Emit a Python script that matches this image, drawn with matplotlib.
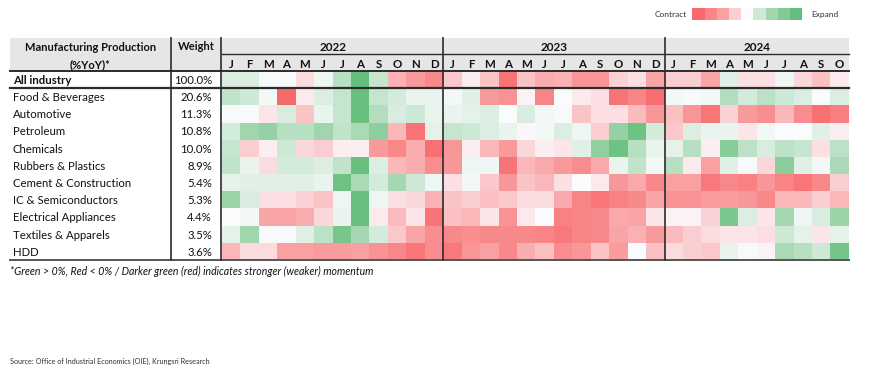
import numpy as np
import matplotlib
matplotlib.use("Agg")
import matplotlib.pyplot as plt
from matplotlib.colors import LinearSegmentedColormap, Normalize

plt.rcParams['font.family'] = ['Lato', 'DejaVu Sans']

# ---------------- data ----------------
rows = ["All industry", "Food & Beverages", "Automotive", "Petroleum", "Chemicals",
        "Rubbers & Plastics", "Cement & Construction", "IC & Semiconductors",
        "Electrical Appliances", "Textiles & Apparels", "HDD"]
weights = ["100.0%", "20.6%", "11.3%", "10.8%", "10.0%", "8.9%", "5.4%", "5.3%",
           "4.4%", "3.5%", "3.6%"]
years = ["2022", "2023", "2024"]
months_per_year = [list("JFMAMJJASOND"), list("JFMAMJJASOND"), list("JFMAMJJASO")]

# momentum score: -4 (strong contraction) .. +4 (strong expansion)
m2022 = [
    [0.7, 0.7, 0.1, 0.1, -0.7, 0.3, 1.5, 4.0, 1.2, -1.6, -2.2, -2.8],
    [1.3, 1.0, 0.2, -4.0, -0.4, 0.7, 1.2, 3.8, 1.2, 0.9, 0.4, 0.4],
    [0.1, 0.1, -0.5, 0.8, -1.2, 0.4, 1.2, 3.8, 1.6, 0.8, 1.0, 0.4],
    [0.9, 2.0, 2.4, 1.5, 1.5, 2.0, 1.3, 1.8, 2.6, -1.5, -3.6, 0.5],
    [1.2, -1.0, -0.3, 1.0, -0.8, -1.0, -0.3, -0.3, -2.2, -2.9, -1.7, -3.7],
    [1.3, 0.4, -0.7, 0.9, 0.9, 0.7, 1.3, 3.8, 0.7, -1.5, -1.7, -2.6],
    [0.5, 0.6, 0.6, 0.6, 0.6, 0.4, 3.6, 1.8, 0.9, 1.9, 1.0, 0.3],
    [2.2, 0.8, -0.6, -0.6, -0.9, -1.2, 0.3, 3.8, 0.3, -0.6, -0.8, -1.6],
    [0.05, 0.2, -1.9, -1.9, -1.7, -0.8, 0.4, 3.8, -0.4, -1.4, -0.5, -3.6],
    [0.5, 2.0, 0.1, 0.1, 0.6, 1.4, 3.3, 1.9, 0.9, -1.1, -1.9, -2.6],
    [-1.5, -0.7, -0.7, -2.0, -2.0, -2.1, -2.1, -2.0, -2.5, -2.9, -3.5, -2.7],
]
m2023 = [
    [-1.1, -0.3, -1.2, -3.6, -1.2, -1.7, -1.6, -2.4, -2.4, -0.9, -0.6, -1.9],
    [0.2, 0.6, -2.2, -2.5, -0.2, -3.0, 0.05, -0.4, -0.6, -3.6, -3.0, -3.8],
    [0.4, 0.5, 0.7, 0.05, 0.8, 0.2, 0.1, -1.2, -0.6, -0.6, -1.4, -2.3],
    [1.2, 1.0, 0.7, 0.4, -0.1, 0.2, 0.7, 0.3, -1.0, 2.4, 3.6, 0.9],
    [-2.4, -0.3, -1.5, -2.2, -0.8, -0.3, -0.5, 0.6, 2.5, 3.6, 1.5, 0.4],
    [-2.3, 0.3, 0.3, -3.6, -1.5, -1.8, -2.2, -2.7, -1.8, 0.4, 1.3, 0.2],
    [-0.6, 0.2, -1.1, -2.3, -1.2, -1.5, -0.6, 0.05, -0.4, -2.3, -1.8, -2.9],
    [-1.2, -1.0, -1.3, -1.1, -0.7, -0.7, -1.8, -3.0, -3.5, -3.1, -2.8, -1.9],
    [-1.3, -1.5, -0.5, -2.5, -0.4, 0.05, -3.1, -3.0, -2.8, -1.8, -1.9, -0.5],
    [-2.8, -2.6, -2.8, -2.8, -2.8, -3.0, -3.4, -3.0, -2.8, -1.9, -1.6, -2.2],
    [-3.4, -2.4, -2.0, -2.9, -1.7, -1.3, -2.7, -2.3, -1.2, -2.1, 0.05, -1.3],
]
m2024 = [
    [-1.0, -1.0, -1.9, 0.6, -0.6, -0.6, 0.3, -0.8, -1.3, -0.4],
    [0.2, 0.1, 0.2, 1.6, 0.9, 1.4, 1.0, 0.7, 0.05, 0.7],
    [-1.3, -2.4, -3.5, -0.9, -2.2, -2.6, -1.5, -2.7, -3.7, -3.2],
    [-1.1, 0.7, 0.4, 0.4, -0.5, 0.2, 0.05, 0.05, 0.6, -0.3],
    [0.5, 1.5, -0.3, 2.8, 1.4, 0.8, 1.4, 1.2, -0.6, 1.4],
    [1.5, -0.4, -2.0, 0.6, 0.1, -0.8, 2.7, 0.6, 0.2, 1.8],
    [-2.0, -2.0, -3.4, -2.9, -3.1, -2.3, -3.0, -3.5, -2.9, -1.0],
    [-2.5, -2.5, -2.1, -2.1, -2.3, -2.9, -1.5, -1.5, -1.0, -1.5],
    [-0.2, -0.2, -0.9, 3.2, 0.7, -0.5, 1.9, 0.3, 0.8, 2.2],
    [-1.4, -1.0, -0.7, -0.5, -0.5, -0.6, 1.0, 0.5, -0.5, 0.5],
    [-0.7, -1.0, -1.1, 0.4, 0.1, -0.2, 1.8, 1.5, 1.0, 3.4],
]
legend_levels = [-4, -3, -2, -1, 0, 1, 2, 3, 4]

# ---------------- layout (pixels) ----------------
W, H = 870, 371
X0, XNAME, XW, XH, XR = 10, 171, 221.5, 222, 849
Y_TOP, Y_YEAR, Y_MON = 37.5, 54, 71
Y_BOT = 260
ROW_H = (Y_BOT - Y_MON) / len(rows)
LINE_C = "#2b2b2b"
GREY = "#E7E6E6"

cmap = LinearSegmentedColormap.from_list(
    "rwg", [(0.0, "#F8696B"), (0.25, "#F9A0A2"), (0.5, "#FCFCFF"),
            (0.75, "#A2D6AF"), (1.0, "#63BE7B")])
norm = Normalize(-4, 4)

fig = plt.figure(figsize=(W / 100, H / 100), dpi=100)
ax = fig.add_axes([0, 0, 1, 1])
ax.set_xlim(0, W)
ax.set_ylim(H, 0)
ax.axis("off")

# header background
ax.fill_between([X0, XR], Y_TOP, Y_MON, color=GREY, lw=0, zorder=0)

# heatmap
data = np.hstack([np.array(m2022), np.array(m2023), np.array(m2024)])
ncol = data.shape[1]
ax.imshow(data, cmap=cmap, norm=norm, extent=(XH, XR, Y_BOT, Y_MON),
          origin="upper", aspect="auto", interpolation="nearest", zorder=1)
col_w = (XR - XH) / ncol

# header text
ax.text((X0 + XNAME) / 2, 47.5, "Manufacturing Production", ha="center", va="center",
        fontsize=8, fontweight="bold", color="#111")
ax.text((X0 + XNAME) / 2, 64.5, "(%YoY)*", ha="center", va="center",
        fontsize=8, fontweight="bold", color="#111")
ax.text((XNAME + XW) / 2, 46.5, "Weight", ha="center", va="center",
        fontsize=8, fontweight="bold", color="#111")

start = 0
year_bounds = []
for yr, mlist in zip(years, months_per_year):
    x_a = XH + start * col_w
    x_b = XH + (start + len(mlist)) * col_w
    year_bounds.append(x_b)
    ax.text((x_a + x_b) / 2, 47.5, yr, ha="center", va="center",
            fontsize=8.5, fontweight="bold", color="#111")
    for i, m in enumerate(mlist):
        ax.text(x_a + (i + 0.5) * col_w, 64, m, ha="center", va="center",
                fontsize=8.3, fontweight="bold", color="#111")
    start += len(mlist)

# row labels
for i, (r, w) in enumerate(zip(rows, weights)):
    yc = Y_MON + (i + 0.5) * ROW_H + 0.8
    bold = "bold" if i == 0 else "normal"
    ax.text(13, yc, r, ha="left", va="center", fontsize=8.2, fontweight=bold, color="#111")
    ax.text(212, yc, w, ha="right", va="center", fontsize=8.2, color="#111")

# lines
ax.plot([XH, XR], [Y_YEAR, Y_YEAR], color=LINE_C, lw=1.0, zorder=3)
ax.plot([X0, XR], [Y_MON, Y_MON], color=LINE_C, lw=1.4, zorder=3)
ax.plot([X0, XR], [Y_MON + ROW_H, Y_MON + ROW_H], color=LINE_C, lw=1.6, zorder=3)
ax.plot([X0, XR], [Y_BOT, Y_BOT], color="#555", lw=1.4, zorder=3)
for xv in [XNAME, XW] + year_bounds[:-1]:
    ax.plot([xv, xv], [Y_TOP, Y_BOT], color=LINE_C, lw=1.2, zorder=3)

# footnote & source
ax.text(10, 271, "*Green > 0%, Red < 0% / Darker green (red) indicates stronger (weaker) momentum",
        ha="left", va="center", fontsize=7.6, style="italic", color="#111")
ax.text(10, 361, "Source: Office of Industrial Economics (OIE), Krungsri Research",
        ha="left", va="center", fontsize=5.2, color="#333")

# legend
lx0, lw_, ly0, ly1 = 692.5, 12.2, 8.3, 20
for k, lv in enumerate(legend_levels):
    ax.fill_between([lx0 + k * lw_, lx0 + (k + 1) * lw_], ly0, ly1,
                    color=cmap(norm(lv)), lw=0)
ax.text(687, 14.2, "Contract", ha="right", va="center", fontsize=6, color="#333")
ax.text(811, 14.2, "Expand", ha="left", va="center", fontsize=6, color="#333")

fig.savefig("out.png", dpi=100)
